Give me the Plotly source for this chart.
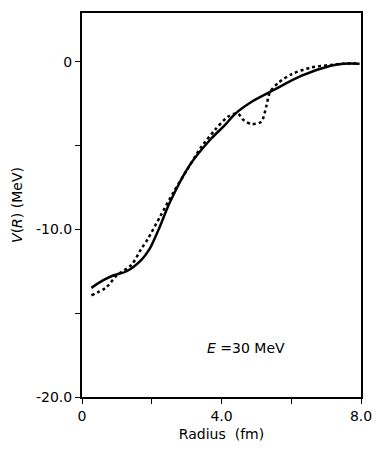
import plotly.graph_objects as go

# Solid curve (fit potential)
r_solid = [0.27, 0.6, 0.91, 1.28, 1.69, 1.93, 2.2, 2.52, 3.07, 3.7, 4.09, 4.4, 4.9, 5.47, 6.3, 7.13, 7.5, 7.96]
v_solid = [-13.49, -13.05, -12.74, -12.5, -11.85, -11.2, -10.0, -8.39, -6.23, -4.6, -3.8, -3.1, -2.35, -1.72, -0.84, -0.25, -0.12, -0.12]

# Dotted curve
r_dot = [0.27, 0.68, 1.0, 1.42, 1.69, 1.88, 2.25, 2.62, 3.0, 3.4, 3.81, 4.18, 4.46, 4.64, 4.87, 5.14, 5.28, 5.39, 5.65, 6.02, 6.57, 7.13, 7.5, 7.96]
v_dot = [-13.94, -13.49, -12.74, -12.12, -11.2, -10.6, -9.2, -7.8, -6.5, -5.15, -4.08, -3.29, -3.09, -3.5, -3.72, -3.59, -2.7, -1.82, -1.23, -0.74, -0.35, -0.2, -0.12, -0.12]

x_tickvals = [0, 2, 4, 6, 8]
x_ticktext = ["0", "", "4.0", "", "8.0"]
y_tickvals = [0, -5, -10, -15, -20]
y_ticktext = ["0", "", "-10.0", "", "-20.0"]

fig = go.Figure()
fig.add_trace(go.Scatter(x=r_solid, y=v_solid, mode="lines",
                         line=dict(color="black", width=2.5, shape="spline", smoothing=0.9),
                         showlegend=False))
fig.add_trace(go.Scatter(x=r_dot, y=v_dot, mode="lines",
                         line=dict(color="black", width=2.5, dash="dot", shape="spline", smoothing=0.8),
                         showlegend=False))

fig.add_annotation(x=4.7, y=-17.08, text="<i>E</i> =30 MeV", showarrow=False,
                   font=dict(size=14, color="black", family="DejaVu Sans"))

axis_common = dict(showgrid=False, zeroline=False, showline=True, linecolor="black",
                   linewidth=2, mirror=True, ticks="outside", ticklen=5, tickwidth=1.2,
                   tickcolor="black", tickfont=dict(size=14, color="black", family="DejaVu Sans"))

fig.update_xaxes(range=[0, 8], tickvals=x_tickvals, ticktext=x_ticktext,
                 title=dict(text="Radius  (fm)", font=dict(size=14, color="black", family="DejaVu Sans"), standoff=6),
                 **axis_common)
fig.update_yaxes(range=[-20, 2.9], tickvals=y_tickvals, ticktext=y_ticktext,
                 title=dict(text="<i>V</i>(<i>R</i>) (MeV)", font=dict(size=14, color="black", family="DejaVu Sans"), standoff=10),
                 **axis_common)

fig.update_layout(width=383, height=451, margin=dict(l=82, r=12, t=11, b=50),
                  plot_bgcolor="white", paper_bgcolor="white")

fig.write_html("out.html")
